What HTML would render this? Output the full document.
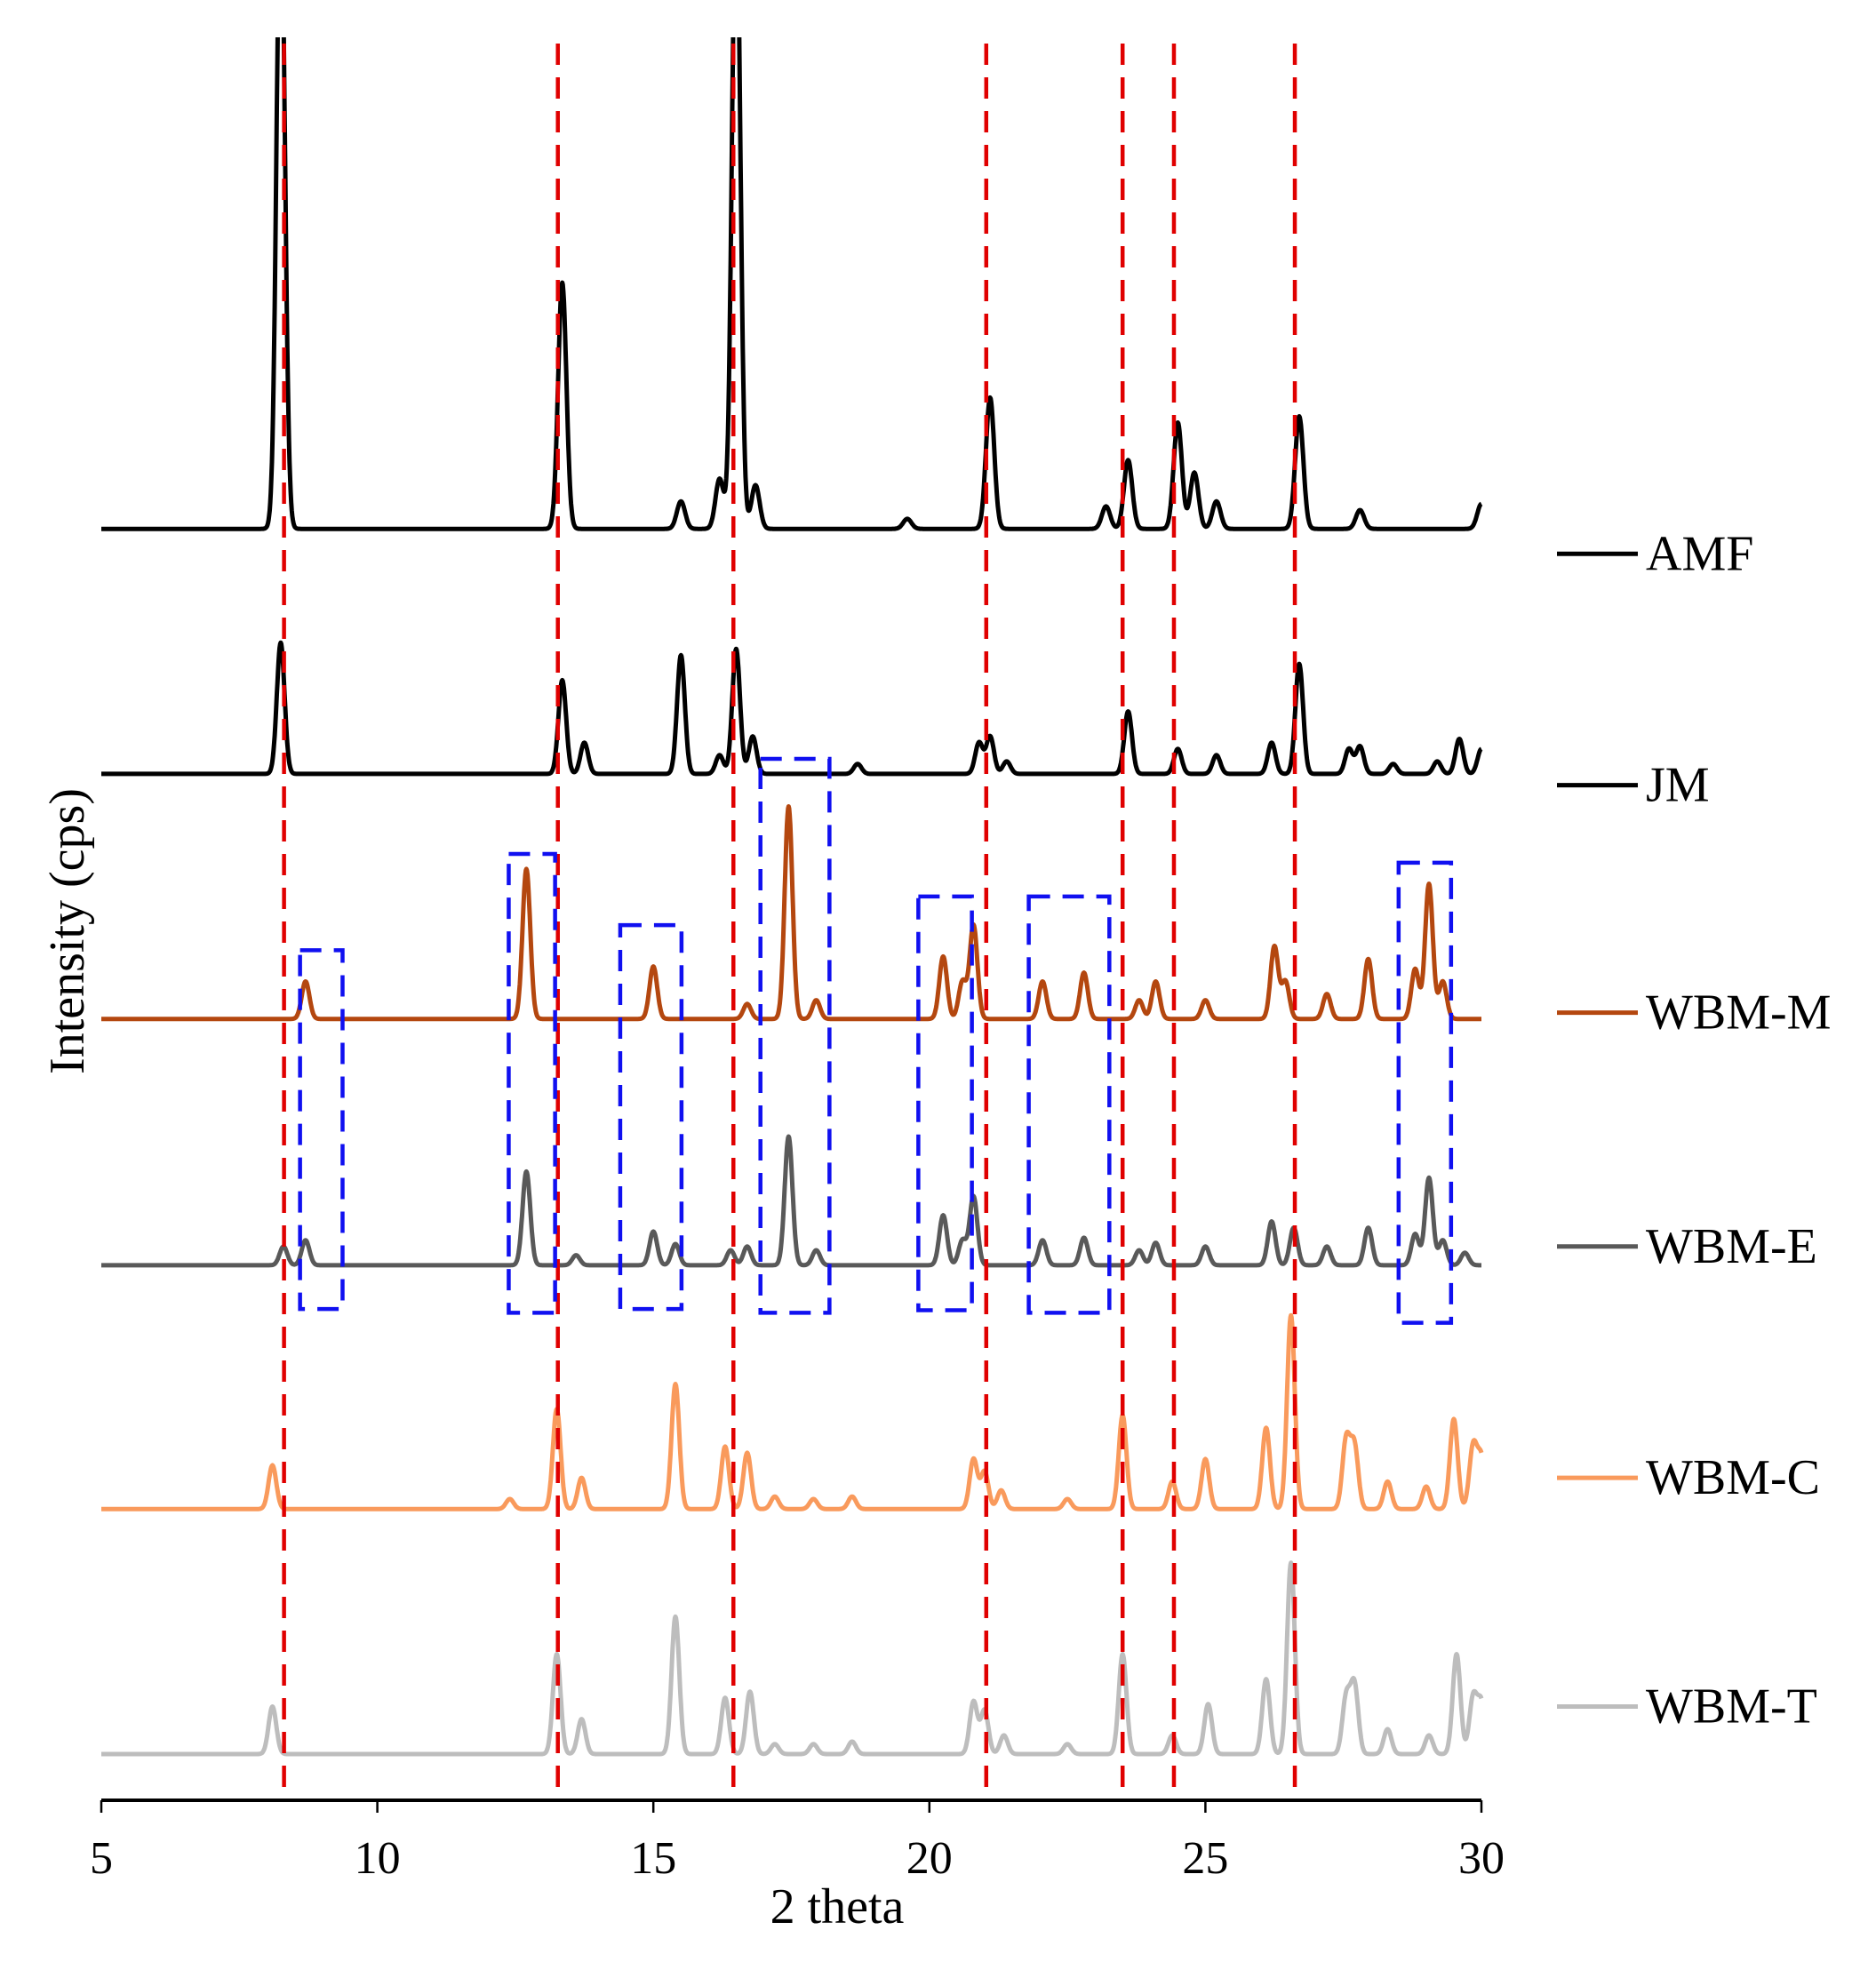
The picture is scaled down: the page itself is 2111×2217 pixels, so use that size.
<!DOCTYPE html>
<html><head><meta charset="utf-8"><style>
html,body{margin:0;padding:0;background:#fff}
svg{display:block}
text{font-family:"Liberation Serif",serif;fill:#000}
</style></head><body>
<svg id="chart" width="2111" height="2217" viewBox="0 0 2111 2217" xmlns="http://www.w3.org/2000/svg">
<defs><clipPath id="plotclip"><rect x="100" y="42" width="1600" height="1990"/></clipPath></defs>
<g id="series" clip-path="url(#plotclip)"></g>
<g id="refs"></g>
<g id="boxes"></g>
<g id="axis"></g>
<g id="legend"></g>
<text x="942" y="2164" font-size="56" text-anchor="middle">2 theta</text>
<text x="0" y="0" font-size="56" text-anchor="middle" transform="translate(94,1048) rotate(-90)">Intensity (cps)</text>
</svg>
<script>
// ---- data ----
const seriesNames = ["AMF","JM","WBM-M","WBM-E","WBM-C","WBM-T"];
const seriesColors = ["#000000","#000000","#B4470F","#595959","#F99A5C","#BDBDBD"];
const amfPos = [8.25,13.35,15.5,16.2,16.5,16.85,19.6,21.1,23.2,23.6,24.5,24.8,25.2,26.7,27.8,30.0];
const amfInt = [520,197,22,40,520,35,8,105,18,55,85,45,22,90,15,20];
const jmPos = [8.25,13.35,13.75,15.5,16.2,16.5,16.8,18.7,20.9,21.1,21.4,23.6,24.5,25.2,26.2,26.7,27.6,27.8,28.4,29.2,29.6,30.0];
const jmInt = [105,75,25,95,15,100,30,8,25,30,10,50,20,15,25,88,20,22,8,10,28,20];
const wbmmPos = [8.7,12.7,15.0,16.7,17.45,17.95,20.25,20.6,20.8,22.05,22.8,23.8,24.1,25.0,26.25,26.45,27.2,27.95,28.8,29.05,29.3];
const wbmmInt = [30,120,42,12,170,15,50,30,75,30,37,15,30,15,58,30,20,48,40,108,30];
const wbmePos = [8.3,8.7,12.7,13.6,15.0,15.4,16.4,16.7,17.45,17.95,20.25,20.6,20.8,22.05,22.8,23.8,24.1,25.0,26.2,26.6,27.2,27.95,28.8,29.05,29.3,29.7];
const wbmeInt = [15,20,75,8,27,17,12,15,103,12,40,20,55,20,22,12,18,15,35,30,15,30,25,70,20,10];
const wbmcPos = [8.1,12.4,13.25,13.7,15.4,16.3,16.7,17.2,17.9,18.6,20.8,21.0,21.3,22.5,23.5,24.4,25.0,26.1,26.55,27.55,27.7,28.3,29.0,29.5,29.85,30.0];
const wbmcInt = [35,8,80,25,100,50,45,10,8,10,40,30,15,8,75,22,40,65,155,55,50,22,18,72,50,40];
const wbmtPos = [8.1,13.25,13.7,15.4,16.3,16.75,17.2,17.9,18.6,20.8,21.0,21.35,22.5,23.5,24.4,25.05,26.1,26.55,27.55,27.7,28.3,29.05,29.55,29.85,30.0];
const wbmtInt = [38,80,28,110,45,50,8,8,10,42,35,15,8,80,15,40,60,153,45,55,20,15,80,45,40];
const seriesBaselines = [423,619,815,1012,1207,1403];
const refLines = [8.31,13.27,16.45,21.03,23.5,24.43,26.62];
const boxX0 = [8.6,12.38,14.4,16.94,19.8,21.8,28.5];
const boxX1 = [9.37,13.22,15.51,18.19,20.77,23.26,29.45];
const boxTop = [760,683,740,607,717,717,690];
const boxBot = [1047,1050,1047,1050,1048,1050,1058];
const xTicks = [5,10,15,20,25,30];
const legendY = [443,628,810,997,1182,1365];
// ---- scales ----
const S = 1.407;
const xs = t => 114 + (t-5)/25*1553;
const ys = d => d*S;
const allPos=[amfPos,jmPos,wbmmPos,wbmePos,wbmcPos,wbmtPos];
const allInt=[amfInt,jmInt,wbmmInt,wbmeInt,wbmcInt,wbmtInt];
const NS="http://www.w3.org/2000/svg";
function mk(tag,attrs,parent){const e=document.createElementNS(NS,tag);for(const k in attrs)e.setAttribute(k,attrs[k]);parent.appendChild(e);return e;}
const gS=document.getElementById('series');
for(let s=0;s<6;s++){
  let d="";
  const w = s===0?0.075:0.07;
  for(let t=5;t<=30.0001;t+=0.01){
    let v=0;
    for(let i=0;i<allPos[s].length;i++){const z=(t-allPos[s][i])/w;v+=allInt[s][i]*Math.exp(-0.5*z*z);}
    const y=ys(seriesBaselines[s]-v);
    d+=(d?"L":"M")+xs(t).toFixed(1)+" "+y.toFixed(1);
  }
  const p=mk('path',{d:d,fill:"none",stroke:seriesColors[s],"stroke-width":5,"stroke-linejoin":"round"},gS);
  
  
}
const gR=document.getElementById('refs');
refLines.forEach(t=>{
  const l=mk('line',{x1:xs(t),x2:xs(t),y1:49,y2:2026,stroke:"#E00000","stroke-width":4.5,"stroke-dasharray":"24 14"},gR);
  
  
});
const gB=document.getElementById('boxes');
for(let i=0;i<boxX0.length;i++){
  const r=mk('rect',{x:xs(boxX0[i]),y:ys(boxTop[i]),width:xs(boxX1[i])-xs(boxX0[i]),height:ys(boxBot[i])-ys(boxTop[i]),fill:"none",stroke:"#1010F0","stroke-width":4.5,"stroke-dasharray":"24 14"},gB);
  
  
}
const gA=document.getElementById('axis');
const ax=mk('line',{x1:114,x2:1667,y1:2026,y2:2026,stroke:"#000","stroke-width":4},gA);


xTicks.forEach(t=>{
  const tk=mk('line',{x1:xs(t),x2:xs(t),y1:2026,y2:2040,stroke:"#000","stroke-width":2.5},gA);
  
  
  const tx=mk('text',{x:xs(t),y:2108,"font-size":52,"text-anchor":"middle"},gA);
  tx.textContent=t;
  
  
});
const gL=document.getElementById('legend');
for(let s=0;s<6;s++){
  const y=ys(legendY[s]);
  const g=mk('g',{},gL);
  
  
  mk('line',{x1:1752,x2:1843,y1:y,y2:y,stroke:seriesColors[s],"stroke-width":5},g);
  const tx=mk('text',{x:1852,y:y+18,"font-size":56},g);
  tx.textContent=seriesNames[s];
}
</script>
</body></html>
